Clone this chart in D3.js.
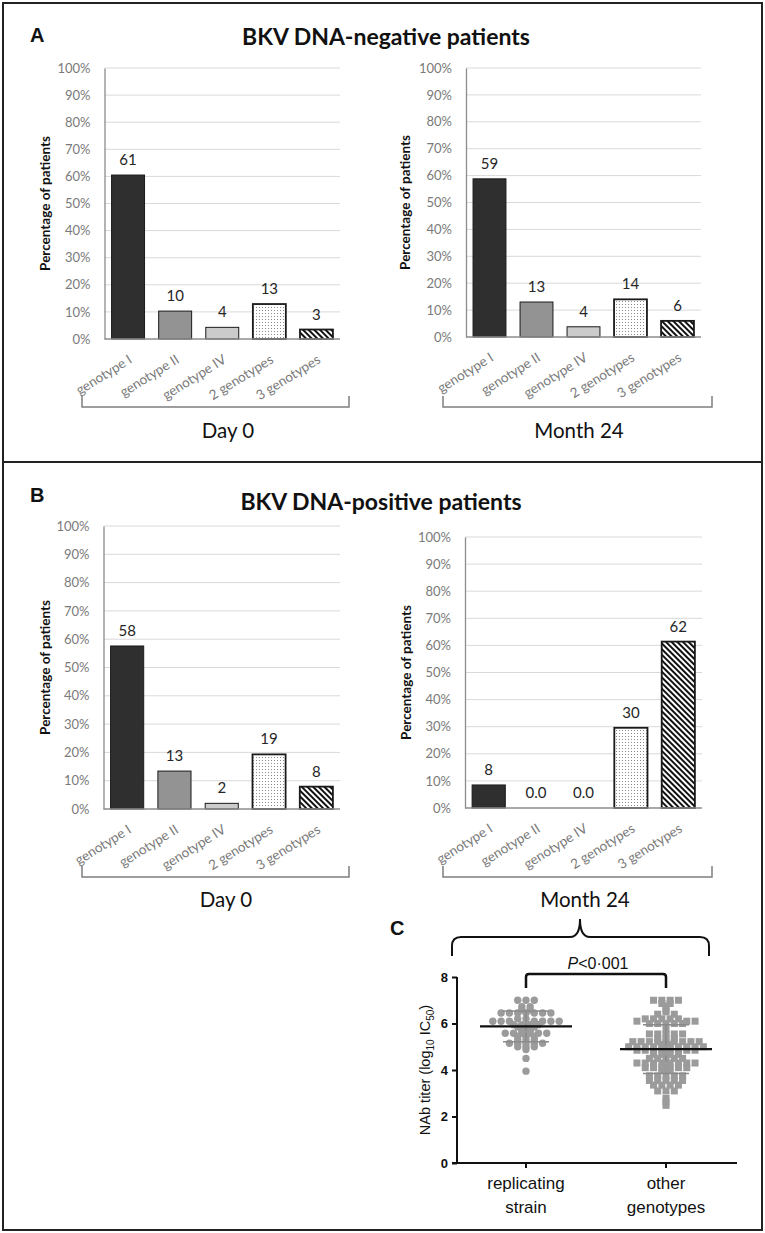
<!DOCTYPE html>
<html>
<head>
<meta charset="utf-8">
<script src="https://cdn.jsdelivr.net/npm/d3@7"></script>
<style>
  html, body { margin: 0; padding: 0; background: #fff; }
  svg { display: block; }
</style>
</head>
<body>
<svg id="chart" width="765" height="1233"></svg>
<script>
// ---------------- DATA ----------------
const categories = ["genotype I", "genotype II", "genotype IV", "2 genotypes", "3 genotypes"];
const yTickValues = [0, 10, 20, 30, 40, 50, 60, 70, 80, 90, 100];

const negDay0Values = [60.5, 10.3, 4.3, 12.9, 3.5];
const negDay0Labels = ["61", "10", "4", "13", "3"];
const negMonth24Values = [58.8, 13.0, 3.8, 14.0, 6.0];
const negMonth24Labels = ["59", "13", "4", "14", "6"];
const posDay0Values = [57.6, 13.4, 2.0, 19.3, 7.9];
const posDay0Labels = ["58", "13", "2", "19", "8"];
const posMonth24Values = [8.5, 0, 0, 29.6, 61.4];
const posMonth24Labels = ["8", "0.0", "0.0", "30", "62"];

const nabGroups = ["replicating strain", "other genotypes"];
const nabTicks = [0, 2, 4, 6, 8];
const replicatingStrain = [
  7.0, 7.0, 7.0,
  6.72, 6.72, 6.58, 6.58,
  6.45, 6.45, 6.45, 6.45, 6.45, 6.45, 6.45,
  6.2, 6.2,
  6.1, 6.1, 6.1, 6.1, 6.1, 6.1, 6.1,
  5.95, 5.95, 5.95, 5.95,
  5.85, 5.85, 5.85,
  5.7, 5.7,
  5.58, 5.58, 5.58, 5.58, 5.58, 5.58,
  5.45, 5.45, 5.45,
  5.3, 5.3, 5.3,
  5.15, 5.15, 5.15, 5.15, 5.15,
  5.0, 5.0, 5.0,
  4.88, 4.5, 3.95
];
const otherGenotypes = [
  7.0, 7.0, 7.0, 7.0,
  6.86, 6.86, 6.75, 6.6, 6.5, 6.4, 6.4,
  6.2, 6.2, 6.2, 6.2, 6.2,
  6.1, 6.1, 6.1,
  6.0, 6.0, 6.0, 6.0, 6.0,
  5.72,
  5.55, 5.55, 5.55, 5.55, 5.55,
  5.36, 5.36, 5.36,
  5.22, 5.22, 5.22, 5.22, 5.22, 5.22, 5.22, 5.22, 5.22,
  5.1, 5.1,
  5.0, 5.0, 5.0, 5.0, 5.0, 5.0, 5.0, 5.0, 5.0, 5.0,
  4.85, 4.85, 4.85, 4.85, 4.85, 4.85, 4.85, 4.85,
  4.67, 4.67, 4.67, 4.67,
  4.5, 4.5, 4.5, 4.5, 4.5,
  4.3, 4.3, 4.3, 4.3, 4.3, 4.3, 4.3, 4.3,
  4.1, 4.1, 4.1, 4.1, 4.1, 4.1,
  4.0, 4.0,
  3.75, 3.75, 3.75, 3.75, 3.75,
  3.55, 3.55, 3.55, 3.55, 3.55,
  3.35, 3.35, 3.35, 3.35,
  3.1, 3.1, 3.1,
  2.78, 2.63, 2.48
];
const nabMeans = [5.88, 4.9];
const nabSD = [0.66, 1.05];

// ---------------- DRAW ----------------
const svg = d3.select("#chart");
const FONT = "Lato, 'Open Sans', sans-serif";
const ARIAL = "'Liberation Sans', Arial, sans-serif";

const defs = svg.append("defs");
const dots = defs.append("pattern").attr("id", "dots")
  .attr("patternUnits", "userSpaceOnUse").attr("width", 3).attr("height", 3);
dots.append("rect").attr("width", 3).attr("height", 3).attr("fill", "#fff");
dots.append("rect").attr("x", 1).attr("y", 1).attr("width", 1).attr("height", 1).attr("fill", "#8a8a8a");
const stripes = defs.append("pattern").attr("id", "stripes")
  .attr("patternUnits", "userSpaceOnUse").attr("width", 4).attr("height", 4)
  .attr("patternTransform", "rotate(-45)");
stripes.append("rect").attr("width", 4).attr("height", 4).attr("fill", "#fff");
stripes.append("rect").attr("width", 2).attr("height", 4).attr("fill", "#111");

const barFills = ["#2f2f2f", "#939393", "#cbcbcb", "url(#dots)", "url(#stripes)"];
const barStrokeW = [1, 1, 1, 1.8, 1.8];

svg.append("rect").attr("x", 3).attr("y", 3).attr("width", 759).attr("height", 459)
  .attr("fill", "none").attr("stroke", "#222").attr("stroke-width", 2);
svg.append("rect").attr("x", 3).attr("y", 462).attr("width", 759).attr("height", 768)
  .attr("fill", "none").attr("stroke", "#222").attr("stroke-width", 2);

[["A", 30, 42], ["B", 30, 502], ["C", 390, 935]].forEach(([t, x, y]) => {
  svg.append("text").attr("x", x).attr("y", y).text(t)
    .attr("font-family", ARIAL).attr("font-weight", "bold").attr("font-size", 20).attr("fill", "#111");
});

svg.append("text").attr("x", 386).attr("y", 45).attr("text-anchor", "middle")
  .attr("font-family", FONT).attr("font-weight", "bold").attr("font-size", 23).attr("fill", "#111")
  .text("BKV DNA-negative patients");
svg.append("text").attr("x", 381).attr("y", 510).attr("text-anchor", "middle")
  .attr("font-family", FONT).attr("font-weight", "bold").attr("font-size", 23).attr("fill", "#111")
  .text("BKV DNA-positive patients");

function barChart(cfg, values, labels) {
  const g = svg.append("g");
  const x = d3.scaleBand().domain(categories).range([cfg.x0, cfg.x1]).paddingInner(0.3).paddingOuter(0.15);
  const y = d3.scaleLinear().domain([0, 100]).range([cfg.yb, cfg.yt]);

  g.selectAll(".grid").data(yTickValues.filter(d => d > 0)).join("line")
    .attr("x1", cfg.x0).attr("x2", cfg.x1)
    .attr("y1", d => y(d)).attr("y2", d => y(d))
    .attr("stroke", "#d9d9d9").attr("stroke-width", 1);

  const ya = g.append("g").attr("transform", `translate(${cfg.x0},0)`)
    .call(d3.axisLeft(y).tickValues(yTickValues).tickSize(0).tickPadding(14).tickFormat(d => d + "%"));
  ya.select(".domain").attr("stroke", "#8c8c8c").attr("stroke-width", 1.3);
  ya.selectAll("text").attr("font-family", FONT).attr("font-size", 13).attr("fill", "#7a7a7a");

  g.selectAll(".bar").data(values).join("rect")
    .attr("x", (d, i) => x(categories[i]))
    .attr("width", x.bandwidth())
    .attr("y", d => y(d))
    .attr("height", d => y(0) - y(d))
    .attr("fill", (d, i) => barFills[i])
    .attr("stroke", (d) => d > 0 ? "#1a1a1a" : "none")
    .attr("stroke-width", (d, i) => barStrokeW[i]);

  g.append("line").attr("x1", cfg.x0).attr("x2", cfg.x1).attr("y1", y(0)).attr("y2", y(0))
    .attr("stroke", "#8c8c8c").attr("stroke-width", 1.5);

  g.selectAll(".lbl").data(values).join("text")
    .attr("x", (d, i) => x(categories[i]) + x.bandwidth() / 2)
    .attr("y", d => y(d) - 10)
    .attr("text-anchor", "middle")
    .attr("font-family", FONT).attr("font-size", 15).attr("fill", "#262626")
    .text((d, i) => labels[i]);

  g.selectAll(".cat").data(categories).join("text")
    .attr("transform", d => `translate(${x(d) + x.bandwidth() / 2 + 5},${y(0) + 23}) rotate(-32)`)
    .attr("text-anchor", "end")
    .attr("font-family", FONT).attr("font-size", 13.5).attr("fill", "#7a7a7a")
    .text(d => d);

  g.append("text")
    .attr("transform", `translate(${cfg.tx},${(y(0) + y(100)) / 2}) rotate(-90)`)
    .attr("text-anchor", "middle").attr("dy", "0.35em")
    .attr("font-family", FONT).attr("font-weight", "bold").attr("font-size", 13.5).attr("fill", "#111")
    .text("Percentage of patients");

  g.append("path")
    .attr("d", `M${cfg.bx0},${cfg.by - 11} V${cfg.by} H${cfg.bx1} V${cfg.by - 11}`)
    .attr("fill", "none").attr("stroke", "#7f7f7f").attr("stroke-width", 1.5);

  g.append("text").attr("x", cfg.px).attr("y", cfg.py).attr("text-anchor", "middle")
    .attr("font-family", FONT).attr("font-size", 20.5).attr("fill", "#111")
    .text(cfg.period);
}

barChart({x0: 104.5, x1: 340, yt: 68, yb: 339, tx: 45, bx0: 82, bx1: 349, by: 407, px: 228, py: 438, period: "Day 0"},
  negDay0Values, negDay0Labels);
barChart({x0: 466, x1: 701, yt: 68, yb: 337, tx: 405, bx0: 443, bx1: 712, by: 407, px: 579, py: 438, period: "Month 24"},
  negMonth24Values, negMonth24Labels);
barChart({x0: 103.5, x1: 340, yt: 526, yb: 809, tx: 45, bx0: 82, bx1: 349, by: 877, px: 226, py: 907, period: "Day 0"},
  posDay0Values, posDay0Labels);
barChart({x0: 465, x1: 702, yt: 537, yb: 808, tx: 406, bx0: 443, bx1: 712, by: 877, px: 585, py: 907, period: "Month 24"},
  posMonth24Values, posMonth24Labels);

// ---------------- PANEL C ----------------
const gc = svg.append("g");
const xs = d3.scalePoint().domain(nabGroups).range([526, 666]);
const ys = d3.scaleLinear().domain([0, 8]).range([1163, 977]);

gc.append("path")
  .attr("d", "M452,956 V946 Q452,937 461,937 H570 Q580,937 580,919 Q580,937 590,937 H700 Q709,937 709,946 V956")
  .attr("fill", "none").attr("stroke", "#111").attr("stroke-width", 2);

const yAx = gc.append("g").attr("transform", "translate(457,0)")
  .call(d3.axisLeft(ys).tickValues(nabTicks).tickSize(5).tickPadding(4));
yAx.select(".domain").attr("stroke", "#111").attr("stroke-width", 2).attr("d", `M0,${ys(8)}V${ys(0)}`);
yAx.selectAll(".tick line").attr("stroke", "#111").attr("stroke-width", 2);
yAx.selectAll("text").attr("font-family", ARIAL).attr("font-weight", "bold").attr("font-size", 13).attr("fill", "#111");

gc.append("line").attr("x1", 452).attr("x2", 737).attr("y1", ys(0)).attr("y2", ys(0))
  .attr("stroke", "#111").attr("stroke-width", 2);
gc.selectAll(".xt").data(nabGroups).join("line")
  .attr("x1", d => xs(d)).attr("x2", d => xs(d)).attr("y1", ys(0)).attr("y2", ys(0) + 5)
  .attr("stroke", "#111").attr("stroke-width", 2);
gc.selectAll(".xl").data(nabGroups).join("text")
  .attr("x", d => xs(d)).attr("y", 1189).attr("text-anchor", "middle")
  .attr("font-family", ARIAL).attr("font-size", 17).attr("fill", "#111")
  .each(function (d) {
    const parts = d.split(" ");
    d3.select(this).selectAll("tspan").data(parts).join("tspan")
      .attr("x", xs(d)).attr("dy", (p, i) => i === 0 ? 0 : 24).text(p => p);
  });

const yt = gc.append("text")
  .attr("transform", `translate(430,${(ys(0) + ys(8)) / 2}) rotate(-90)`)
  .attr("text-anchor", "middle")
  .attr("font-family", ARIAL).attr("font-size", 14.5).attr("fill", "#111");
yt.append("tspan").text("NAb titer (log");
yt.append("tspan").attr("font-size", 10).attr("dy", 4).text("10");
yt.append("tspan").attr("dy", -4).text(" IC");
yt.append("tspan").attr("font-size", 10).attr("dy", 4).text("50");
yt.append("tspan").attr("dy", -4).text(")");

gc.append("path")
  .attr("d", `M${xs(nabGroups[0])},988 V977 Q${xs(nabGroups[0])},974 ${xs(nabGroups[0]) + 3},974 H${xs(nabGroups[1]) - 3} Q${xs(nabGroups[1])},974 ${xs(nabGroups[1])},977 V988`)
  .attr("fill", "none").attr("stroke", "#111").attr("stroke-width", 2.5);
const pt = gc.append("text").attr("x", 598).attr("y", 969).attr("text-anchor", "middle")
  .attr("font-family", ARIAL).attr("font-size", 16).attr("fill", "#111");
pt.append("tspan").attr("font-style", "italic").text("P");
pt.append("tspan").text("<0·001");

// GraphPad-like column scatter: points binned into horizontal rows, spread side by side
function swarm(values, cx, step, binH) {
  const bins = d3.groups(values.map(v => ({v, y: ys(v)})), d => Math.round((ys(0) - ys(d.v)) / binH));
  const out = [];
  bins.forEach(([, pts]) => {
    pts.sort((a, b) => b.v - a.v);
    const n = pts.length;
    const order = d3.range(n).map(i => (i - (n - 1) / 2)).sort((a, b) => Math.abs(a) - Math.abs(b) || a - b);
    pts.forEach((p, i) => out.push({v: p.v, y: p.y, x: cx + order[i] * step}));
  });
  return out;
}

const n1 = swarm(replicatingStrain, xs(nabGroups[0]), 8.3, 3.4);
const n2 = swarm(otherGenotypes, xs(nabGroups[1]), 8.3, 3.4);

gc.selectAll(".c1").data(n1).join("circle")
  .attr("cx", d => d.x).attr("cy", d => d.y).attr("r", 3.7).attr("fill", "#9b9b9b");
gc.selectAll(".s2").data(n2).join("rect")
  .attr("x", d => d.x - 3.5).attr("y", d => d.y - 3.5).attr("width", 7).attr("height", 7).attr("fill", "#9b9b9b");

nabGroups.forEach((gname, i) => {
  const cx = xs(gname);
  const top = ys(nabMeans[i] + nabSD[i]), bot = ys(nabMeans[i] - nabSD[i]);
  gc.append("line").attr("x1", cx).attr("x2", cx).attr("y1", top).attr("y2", bot)
    .attr("stroke", "#8a8a8a").attr("stroke-width", 1.5);
  [top, bot].forEach(yy => gc.append("line").attr("x1", cx - 23).attr("x2", cx + 23).attr("y1", yy).attr("y2", yy)
    .attr("stroke", "#8a8a8a").attr("stroke-width", 1.5));
  gc.append("line").attr("x1", cx - 46).attr("x2", cx + 46)
    .attr("y1", ys(nabMeans[i])).attr("y2", ys(nabMeans[i]))
    .attr("stroke", "#111").attr("stroke-width", 2.2);
});
</script>
</body>
</html>
